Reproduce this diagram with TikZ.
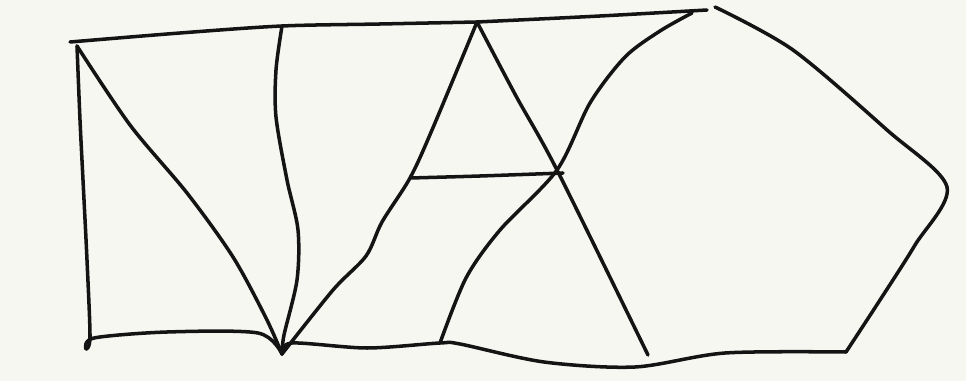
\documentclass[tikz,border=0pt]{standalone}
\usepackage{tikz}
\usetikzlibrary{calc}

\definecolor{paper}{RGB}{247,247,242}
\definecolor{pencil}{RGB}{20,20,20}

\begin{document}
\begin{tikzpicture}[x=0.02cm, y=-0.02cm,
    pen/.style={pencil, line width=2pt, line cap=round, line join=round}]
    % paper
    \fill[paper] (0,0) rectangle (966,381);
    \useasboundingbox (0,0) rectangle (966,381);

    % corners and crossings
    \coordinate (tl) at (77,46);
    \coordinate (tm) at (282,26);
    \coordinate (apex) at (477,22);
    \coordinate (tr) at (707,10);
    \coordinate (bl) at (86,349);
    \coordinate (bm) at (282,354);
    \coordinate (bk) at (440,343);
    \coordinate (br) at (846,352);
    \coordinate (rp) at (947,187);
    \coordinate (hl) at (410,178);
    \coordinate (hr) at (563,173);
    \coordinate (x) at (557,170);

    % top edge
    \draw[pen] plot[smooth] coordinates {(70,42) (180,33) (tm) (380,24) (apex)};
    \draw[pen] plot[smooth] coordinates {(apex) (600,16) (tr)};

    % left side
    \draw[pen] plot[smooth] coordinates {(tl) (80,120) (83,180) (87,260) (90,337) (bl)};
    \draw[pen] plot[smooth] coordinates {(bl) (94,338) (167,332) (258,333) (bm)};

    % diagonal from the top corner
    \draw[pen] plot[smooth] coordinates {(tl) (130,125) (187,193) (233,257) (266,318) (bm)};

    % wavy middle line
    \draw[pen] plot[smooth] coordinates {(tm) (276,70) (276,117) (287,180) (298,230) (297,280) (284,335) (bm)};

    % left leg of the big A
    \draw[pen] plot[smooth] coordinates {(bm) (333,290) (366,256) (382,222) (hl) (432,130) (apex)};

    % right leg of the big A
    \draw[pen] plot[smooth] coordinates {(apex) (516,96) (x) (648,355)};

    % cross bar
    \draw[pen] plot[smooth] coordinates {(hl) (480,176) (hr)};

    % arc to the top right
    \draw[pen] plot[smooth] coordinates {(bk) (466,278) (500,230) (x) (590,103) (625,57) (660,31) (692,13)};

    % bottom edge
    \draw[pen] plot[smooth] coordinates {(bm) (292,343) (367,348) (bk) (460,344) (544,362) (635,367) (725,353) (br)};

    % right hull
    \draw[pen] plot[smooth] coordinates {(715,7) (793,50) (887,130) (rp) (915,245) (880,300) (br)};
\end{tikzpicture}
\end{document}
